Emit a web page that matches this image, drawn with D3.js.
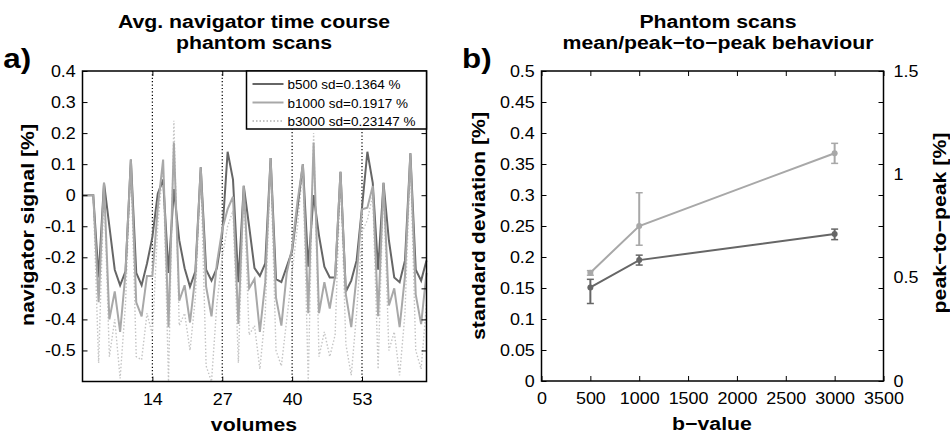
<!DOCTYPE html>
<html>
<head>
<meta charset="utf-8">
<script src="https://cdn.jsdelivr.net/npm/d3@7.9.0/dist/d3.min.js"></script>
<style>
  body { margin: 0; background: #fff; }
  text { font-family: "Liberation Sans", Arial, sans-serif; fill: #000; }
  .frame { fill: none; stroke: #000; stroke-width: 1.5; }
</style>
</head>
<body>
<svg width="950" height="435"></svg>
<script>
// ---- panel a) data ----
const volumes = d3.range(1, 66);
const b500 = [0, 0, 0, -0.265, 0.04, -0.1, -0.24, -0.29, -0.245, 0.115,
  -0.25, -0.29, -0.22, -0.135, 0.005, 0.05, -0.25, 0.02, -0.145, -0.235,
  -0.295, -0.245, 0.09, -0.24, -0.275, -0.235, -0.125, 0.14, 0.05, -0.28,
  0.03, -0.1, -0.235, -0.26, -0.22, 0.12, -0.27, -0.28, -0.23, -0.18,
  -0.04, 0.1, -0.23, 0.0, -0.13, -0.23, -0.265, -0.265, 0.075, -0.31,
  -0.275, -0.21, -0.04, 0.14, 0.04, -0.24, 0.04, -0.145, -0.265, -0.28,
  -0.21, 0.135, -0.24, -0.275, -0.21];
const b1000 = [0, 0, 0, -0.345, 0.04, -0.4, -0.31, -0.44, -0.25, 0.115,
  -0.345, -0.39, -0.26, -0.26, -0.04, 0.115, -0.425, 0.17, -0.34, -0.29,
  -0.41, -0.26, 0.09, -0.295, -0.39, -0.22, -0.11, -0.045, -0.005, -0.415,
  0.03, -0.3, -0.27, -0.44, -0.28, 0.12, -0.33, -0.42, -0.25, -0.17,
  -0.02, 0.1, -0.38, 0.17, -0.38, -0.28, -0.365, -0.26, 0.075, -0.32,
  -0.425, -0.26, -0.045, -0.04, 0.03, -0.39, 0.04, -0.355, -0.3, -0.425,
  -0.26, 0.135, -0.32, -0.415, -0.25];
const b3000 = [0, 0, 0, -0.54, 0.03, -0.52, -0.4, -0.59, -0.35, 0.11,
  -0.52, -0.53, -0.38, -0.45, -0.1, 0.1, -0.6, 0.24, -0.42, -0.38,
  -0.5, -0.33, 0.08, -0.55, -0.6, -0.35, -0.2, -0.1, -0.05, -0.54,
  0.02, -0.45, -0.42, -0.56, -0.38, 0.11, -0.5, -0.55, -0.4, -0.25,
  -0.1, 0.09, -0.6, 0.2, -0.52, -0.44, -0.52, -0.45, 0.07, -0.48,
  -0.58, -0.38, -0.12, -0.08, 0.0, -0.56, 0.03, -0.5, -0.44, -0.58,
  -0.38, 0.12, -0.5, -0.56, -0.35];
const seriesNames = ['b500 sd=0.1364 %', 'b1000 sd=0.1917 %', 'b3000 sd=0.23147 %'];
const markerVolumes = [14, 27, 40, 53];
const yTicksA = [-0.5, -0.4, -0.3, -0.2, -0.1, 0, 0.1, 0.2, 0.3, 0.4];

// ---- panel b) data ----
const bValues = [500, 1000, 3000];
const sdMean = [0.151, 0.195, 0.237];
const sdLow = [0.125, 0.187, 0.228];
const sdHigh = [0.164, 0.203, 0.245];
const ptpMean = [0.524, 0.75, 1.102];
const ptpLow = [0.512, 0.657, 1.053];
const ptpHigh = [0.534, 0.911, 1.15];
const xTicksB = [0, 500, 1000, 1500, 2000, 2500, 3000, 3500];
const yTicksB = [0, 0.05, 0.1, 0.15, 0.2, 0.25, 0.3, 0.35, 0.4, 0.45, 0.5];
const y2TicksB = [0, 0.5, 1, 1.5];

const svg = d3.select('svg');
const dark = '#666', light = '#a8a8a8', pale = '#c4c4c4';
const fmt = d => String(d);
const SX = 1.12;       // the figure's lettering is a bit wider than Arial
const TICK = 16, LABEL = 19;

// ================= panel a =================
const xA = d3.scaleLinear().domain([1, 65]).range([82.5, 426.5]);
const yA = d3.scaleLinear().domain([-0.6, 0.4]).range([381.5, 71]);
const gA = svg.append('g');

// dotted vertical markers
markerVolumes.forEach(v => {
  gA.append('line')
    .attr('x1', xA(v)).attr('x2', xA(v))
    .attr('y1', yA(-0.6)).attr('y2', yA(0.4))
    .attr('stroke', '#000').attr('stroke-width', 1.2)
    .attr('stroke-dasharray', '1.2,2.2');
});

const lineA = d3.line().x((d, i) => xA(volumes[i])).y(d => yA(d));
gA.append('path').datum(b3000).attr('d', lineA)
  .attr('fill', 'none').attr('stroke', pale).attr('stroke-width', 1.4)
  .attr('stroke-dasharray', '1.5,2');
gA.append('path').datum(b500).attr('d', lineA)
  .attr('fill', 'none').attr('stroke', dark).attr('stroke-width', 2);
gA.append('path').datum(b1000).attr('d', lineA)
  .attr('fill', 'none').attr('stroke', light).attr('stroke-width', 2);

// axes with inward ticks (matlab style)
function styleAxis(g) {
  g.select('.domain').remove();
  g.selectAll('text').attr('font-size', TICK).attr('fill', '#111')
    .attr('transform', `scale(${SX},1)`);
  g.selectAll('line').attr('stroke', '#000').attr('stroke-width', 1);
}
gA.append('g').attr('transform', `translate(0,${yA(-0.6)})`)
  .call(d3.axisBottom(xA).tickValues(markerVolumes).tickSize(-5).tickPadding(12).tickFormat(fmt))
  .call(styleAxis);
gA.append('g').attr('transform', `translate(0,${yA(0.4)})`)
  .call(d3.axisTop(xA).tickValues(markerVolumes).tickSize(-5).tickFormat(''))
  .call(styleAxis);
gA.append('g').attr('transform', `translate(${xA(1)},0)`)
  .call(d3.axisLeft(yA).tickValues(yTicksA).tickSize(-5).tickPadding(6)
    .tickFormat(d => d === 0 ? '0' : d.toFixed(1)))
  .call(styleAxis);
gA.append('g').attr('transform', `translate(${xA(65)},0)`)
  .call(d3.axisRight(yA).tickValues(yTicksA).tickSize(-5).tickFormat(''))
  .call(styleAxis);
gA.append('rect').attr('class', 'frame')
  .attr('x', xA(1)).attr('y', yA(0.4))
  .attr('width', xA(65) - xA(1)).attr('height', yA(-0.6) - yA(0.4));

// legend
const leg = gA.append('g').attr('transform', 'translate(246.5,71)');
leg.append('rect').attr('width', 180).attr('height', 58)
  .attr('fill', '#fff').attr('stroke', '#000').attr('stroke-width', 1.5);
const legStyles = [
  { c: dark, dash: null }, { c: light, dash: null }, { c: pale, dash: '1.5,2' }
];
seriesNames.forEach((name, i) => {
  const yy = 13 + i * 18.5;
  leg.append('line').attr('x1', 6).attr('x2', 37).attr('y1', yy).attr('y2', yy)
    .attr('stroke', legStyles[i].c).attr('stroke-width', 2)
    .attr('stroke-dasharray', legStyles[i].dash);
  leg.append('text').attr('x', 41).attr('y', yy + 5).attr('font-size', 13.5)
    .attr('fill', '#111').text(name);
});

function label(x, y, txt, size, rot) {
  return svg.append('text')
    .attr('transform', `translate(${x},${y})` + (rot ? ' rotate(-90)' : '') + ` scale(${SX},1)`)
    .attr('text-anchor', 'middle').attr('font-size', size).attr('font-weight', 'bold')
    .text(txt);
}

// titles / labels
label(254, 28, 'Avg. navigator time course', LABEL);
label(254, 49, 'phantom scans', LABEL);
label(254, 431, 'volumes', LABEL);
label(34, 225, 'navigator signal [%]', LABEL, true);
svg.append('text').attr('x', 3).attr('y', 68).attr('transform', `scale(${SX},1)`)
  .attr('font-size', 28).attr('font-weight', 'bold').text('a)');

// ================= panel b =================
const xB = d3.scaleLinear().domain([0, 3500]).range([541.5, 883.5]);
const yB = d3.scaleLinear().domain([0, 0.5]).range([381, 71]);
const y2B = d3.scaleLinear().domain([0, 1.5]).range([381, 71]);
const gB = svg.append('g');

gB.append('g').attr('transform', `translate(0,${yB(0)})`)
  .call(d3.axisBottom(xB).tickValues(xTicksB).tickSize(-5).tickPadding(12).tickFormat(fmt))
  .call(styleAxis);
gB.append('g').attr('transform', `translate(0,${yB(0.5)})`)
  .call(d3.axisTop(xB).tickValues(xTicksB).tickSize(-5).tickFormat(''))
  .call(styleAxis);
gB.append('g').attr('transform', `translate(${xB(0)},0)`)
  .call(d3.axisLeft(yB).tickValues(yTicksB).tickSize(-5).tickPadding(6).tickFormat(fmt))
  .call(styleAxis);
gB.append('g').attr('transform', `translate(${xB(3500)},0)`)
  .call(d3.axisRight(yB).tickValues(yTicksB).tickSize(-5).tickFormat(''))
  .call(styleAxis);
gB.append('g').attr('transform', `translate(${xB(3500)},0)`)
  .call(d3.axisRight(y2B).tickValues(y2TicksB).tickSize(0).tickPadding(9).tickFormat(fmt))
  .call(styleAxis);
gB.append('rect').attr('class', 'frame')
  .attr('x', xB(0)).attr('y', yB(0.5))
  .attr('width', xB(3500) - xB(0)).attr('height', yB(0) - yB(0.5));

function drawSeries(mean, low, high, scale, color) {
  gB.append('path').datum(mean)
    .attr('d', d3.line().x((d, i) => xB(bValues[i])).y(d => scale(d)))
    .attr('fill', 'none').attr('stroke', color).attr('stroke-width', 2);
  bValues.forEach((b, i) => {
    const x = xB(b);
    gB.append('line').attr('x1', x).attr('x2', x)
      .attr('y1', scale(low[i])).attr('y2', scale(high[i]))
      .attr('stroke', color).attr('stroke-width', 2);
    [low[i], high[i]].forEach(v => {
      gB.append('line').attr('x1', x - 3.5).attr('x2', x + 3.5)
        .attr('y1', scale(v)).attr('y2', scale(v))
        .attr('stroke', color).attr('stroke-width', 1.5);
    });
    gB.append('circle').attr('cx', x).attr('cy', scale(mean[i])).attr('r', 3)
      .attr('fill', color);
  });
}
drawSeries(ptpMean, ptpLow, ptpHigh, y2B, light);
drawSeries(sdMean, sdLow, sdHigh, yB, dark);

label(718, 28, 'Phantom scans', LABEL);
label(718, 49, 'mean/peak\u2212to\u2212peak behaviour', LABEL);
label(712, 430, 'b\u2212value', LABEL);
label(485, 226, 'standard deviation [%]', LABEL, true);
label(946, 223, 'peak\u2212to\u2212peak [%]', LABEL, true);
svg.append('text').attr('x', 462 / SX).attr('y', 68).attr('transform', `scale(${SX},1)`)
  .attr('font-size', 28).attr('font-weight', 'bold').text('b)');
</script>
</body>
</html>
